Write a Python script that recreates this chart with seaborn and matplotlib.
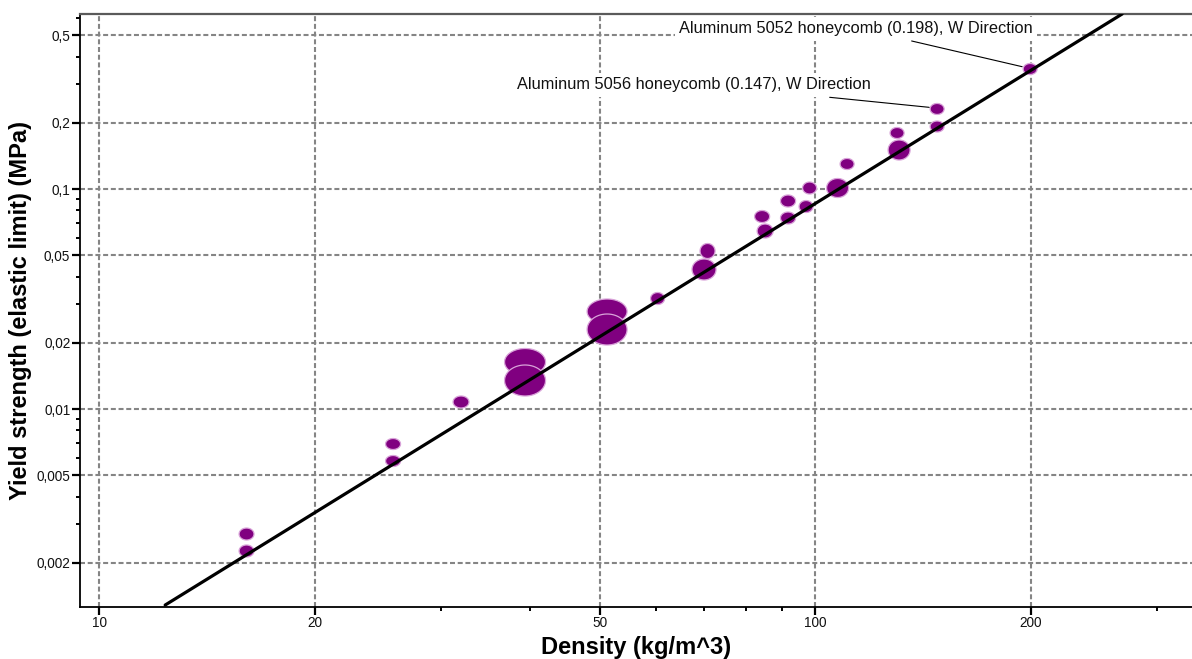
import numpy as np
import matplotlib
matplotlib.use("Agg")
import matplotlib.pyplot as plt
import seaborn as sns
from matplotlib.ticker import FixedLocator, FixedFormatter, LogLocator, NullFormatter

# Material bubbles: density range (kg/m^3) and yield strength range (MPa)
density_lo = [15.69, 15.69, 25.13, 25.13, 31.22, 36.84, 36.84, 48.04, 48.04, 58.92,
              67.32, 69.08, 82.99, 82.32, 89.47, 89.47, 94.98, 96.06, 103.77, 108.37,
              126.46, 127.27, 144.75, 144.75, 195.24]
density_hi = [16.46, 16.46, 26.37, 26.37, 32.86, 42.03, 42.03, 54.63, 54.63, 61.64,
              72.72, 72.49, 87.38, 86.40, 93.92, 93.92, 99.36, 100.48, 111.38, 113.36,
              135.72, 133.13, 151.42, 151.42, 204.21]
strength_lo = [0.002125, 0.002538, 0.005479, 0.006545, 0.010105, 0.011458, 0.014202,
               0.019538, 0.024343, 0.029854, 0.038589, 0.048316, 0.059876, 0.070416,
               0.06932, 0.082829, 0.078194, 0.094901, 0.091488, 0.12265, 0.13547,
               0.16964, 0.18157, 0.21818, 0.33146]
strength_hi = [0.002409, 0.002877, 0.006147, 0.007343, 0.011458, 0.015849, 0.018836,
               0.027026, 0.031623, 0.033848, 0.048064, 0.056527, 0.06932, 0.079847,
               0.078604, 0.093914, 0.088631, 0.10760, 0.11162, 0.13762, 0.16699,
               0.19034, 0.20374, 0.24480, 0.37192]

# Guide line (slope 2 on log-log axes)
fit_density = [12.37, 268.4]
fit_strength = [0.001285, 0.6245]

# Labelled materials: text position and leader line from text to bubble
label_texts = ["Aluminum 5052 honeycomb (0.198), W Direction",
               "Aluminum 5056 honeycomb (0.147), W Direction"]
label_x = [114.07, 67.77]
label_y = [0.5337, 0.2970]
leader_x0 = [136.4, 104.8]
leader_y0 = [0.4708, 0.2611]
leader_x1 = [194.6, 144.3]
leader_y1 = [0.3597, 0.2351]

x_major = [10, 20, 50, 100, 200]
x_major_labels = ["10", "20", "50", "100", "200"]
y_major = [0.002, 0.005, 0.01, 0.02, 0.05, 0.1, 0.2, 0.5]
y_major_labels = ["0,002", "0,005", "0,01", "0,02", "0,05", "0,1", "0,2", "0,5"]

sns.set_style("white")
plt.rcParams["font.family"] = ["Liberation Sans", "DejaVu Sans"]

fig = plt.figure(figsize=(11.92, 6.59), dpi=100)
ax = fig.add_axes([80 / 1192, 1 - 606.7 / 659, 1112 / 1192, (606.7 - 14) / 659])
ax.set_xscale("log")
ax.set_yscale("log")
ax.set_xlim(9.407, 336.0)
ax.set_ylim(0.001263, 0.6244)

# Dashed grid on the labelled decades
for xv in x_major:
    ax.axvline(xv, color="#858585", lw=1.5, ls=(0, (2.4, 1.3)), zorder=0)
for yv in y_major:
    ax.axhline(yv, color="#858585", lw=1.5, ls=(0, (2.4, 1.3)), zorder=0)

# Bubbles drawn as ellipses in log space, upper ones first
t = np.linspace(0, 2 * np.pi, 120)
lx0, lx1 = np.log10(density_lo), np.log10(density_hi)
ly0, ly1 = np.log10(strength_lo), np.log10(strength_hi)
cy = (ly0 + ly1) / 2
for i in np.argsort(-cy):
    cxl = (lx0[i] + lx1[i]) / 2
    hx = (lx1[i] - lx0[i]) / 2
    cyl = cy[i]
    hy = (ly1[i] - ly0[i]) / 2
    ex = 10 ** (cxl + hx * np.cos(t))
    ey = 10 ** (cyl + hy * np.sin(t))
    ax.fill(ex, ey, facecolor="#800080", edgecolor="#d9a3d9", lw=0.9, zorder=3)

sns.lineplot(x=fit_density, y=fit_strength, ax=ax, color="black", lw=2.3,
             zorder=4, legend=False)

for txt, tx, ty in zip(label_texts, label_x, label_y):
    ax.text(tx, ty, txt, ha="center", va="center", fontsize=11.8, color="#111111",
            zorder=5, bbox=dict(facecolor="white", edgecolor="none", pad=3))
for x0, y0, x1, y1 in zip(leader_x0, leader_y0, leader_x1, leader_y1):
    ax.plot([x0, x1], [y0, y1], color="black", lw=0.8, zorder=6)

ax.xaxis.set_major_locator(FixedLocator(x_major))
ax.xaxis.set_major_formatter(FixedFormatter(x_major_labels))
ax.xaxis.set_minor_locator(LogLocator(base=10, subs=(3, 4, 6, 7, 8, 9), numticks=20))
ax.xaxis.set_minor_formatter(NullFormatter())
ax.yaxis.set_major_locator(FixedLocator(y_major))
ax.yaxis.set_major_formatter(FixedFormatter(y_major_labels))
ax.yaxis.set_minor_locator(LogLocator(base=10, subs=(3, 4, 6, 7, 8, 9), numticks=20))
ax.yaxis.set_minor_formatter(NullFormatter())

ax.tick_params(axis="both", which="major", direction="out", length=5.5, width=1.6,
               color="black", labelsize=9.8, labelcolor="#111111", pad=1.5,
               bottom=True, left=True)
ax.tick_params(axis="both", which="minor", direction="out", length=3, width=1.4,
               color="black", bottom=True, left=True)

for side in ["left", "bottom"]:
    ax.spines[side].set_color("black")
    ax.spines[side].set_linewidth(1.3)
ax.spines["top"].set_color("#5a5a5a")
ax.spines["top"].set_linewidth(1.6)
ax.spines["right"].set_visible(False)

ax.set_xlabel("Density (kg/m^3)", fontsize=17, fontweight="bold", color="black",
              labelpad=4)
ax.set_ylabel("Yield strength (elastic limit) (MPa)", fontsize=17, fontweight="bold",
              color="black", labelpad=3)

fig.savefig("out.png", dpi=100)
